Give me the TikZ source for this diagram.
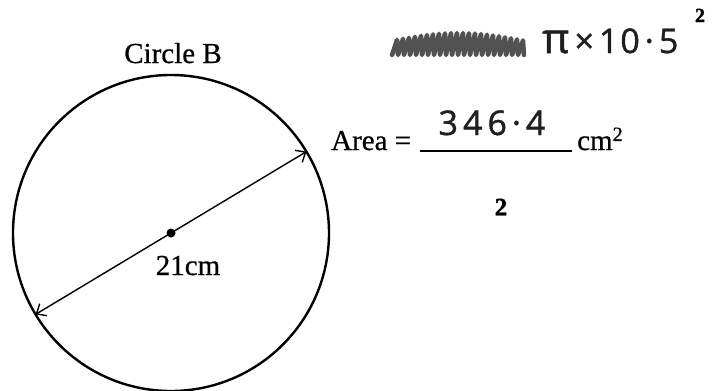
\documentclass[tikz,border=0pt]{standalone}
\usepackage{fontspec}
\setmainfont{Liberation Serif}[FakeBold=0.6]
\newfontfamily\handfont{Open Sans}[FakeBold=1.2]
\newfontfamily\markfont{Liberation Serif Bold}[FakeBold=1.5]
\usetikzlibrary{arrows.meta,positioning}
\newcommand{\hgap}{\kern5pt}

\begin{document}
\begin{tikzpicture}[x=1pt, y=-1pt, >={Straight Barb[length=8pt,width=14pt]},
    printed/.style={font=\fontsize{29}{30}\selectfont, inner sep=0pt},
    hand/.style={font=\handfont\fontsize{34}{36}\selectfont, text=black!88, inner sep=0pt},
    boldnum/.style={font=\markfont\fontsize{25}{25}\selectfont, inner sep=0pt},
    scribble/.style={line width=4.5pt, draw=black!68, line join=round, line cap=round}]

    % Page frame (pixel coordinates, y downwards)
    \useasboundingbox (0,0) rectangle (716,391);

    % Circle B with its diameter
    \node[circle, draw, line width=2.4pt, minimum size=316pt, inner sep=0pt, outer sep=0pt]
        (circB) at (171,233) {};
    \node[circle, fill, inner sep=0pt, minimum size=9pt] (ctr) at (circB.center) {};
    \draw[<->, line width=1.4pt] (circB.211) -- (circB.31);

    % Printed labels
    \node[printed, anchor=base] (title) at (173,63) {Circle B};
    \node[printed, anchor=base] (diam) at (188,275) {21cm};

    % Answer line
    \node[printed, anchor=base west] (area) at (331,150) {Area =};
    \coordinate (lineL) at (420,151);
    \coordinate (lineR) at (572,151);
    \draw[line width=1.3pt] (lineL) -- (lineR);
    \node[printed, anchor=base west] (unit) at (577,150) {cm\textsuperscript{2}};

    % Handwritten working
    \draw[scribble] (392,55) \foreach \i in {1,...,22} {
        -- ++(5,{-14-8*sin(\i*8)}) -- ++(1,{14+8*sin(\i*8)})};
    \node[hand, anchor=base west] (work) at (542,53)
        {{\fontsize{42}{42}\selectfont π}\hgap×\hgap1\kern2pt0\hgap·\hgap5};
    \node[hand, anchor=base] (ans) at (492,135) {3\hgap4\hgap6\hgap·\hgap4};

    % Marks
    \node[boldnum, font=\markfont\fontsize{20}{20}\selectfont, anchor=base] (sq) at (700,22) {2};
    \node[boldnum] (marks) at (501,207) {2};

\end{tikzpicture}
\end{document}
